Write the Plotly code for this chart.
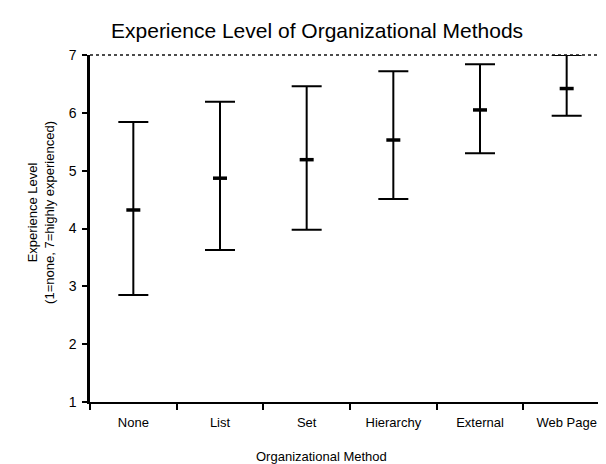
import plotly.graph_objects as go

categories = ["None", "List", "Set", "Hierarchy", "External", "Web Page"]
means = [4.32, 4.87, 5.19, 5.53, 6.05, 6.42]
upper = [5.84, 6.19, 6.46, 6.72, 6.84, 7.0]
lower = [2.85, 3.63, 3.98, 4.51, 5.30, 5.95]
y_ticks = [1, 2, 3, 4, 5, 6, 7]

err_plus = [u - m for u, m in zip(upper, means)]
err_minus = [m - l for m, l in zip(means, lower)]

FONT = "Arial, Liberation Sans, Helvetica, sans-serif"

fig = go.Figure()
fig.add_trace(go.Scatter(
    x=categories, y=means, mode="markers",
    marker=dict(symbol="line-ew", size=10, line=dict(width=3.5, color="black"), color="black"),
    error_y=dict(type="data", symmetric=False, array=err_plus, arrayminus=err_minus,
                 color="black", thickness=2, width=15),
    showlegend=False, hoverinfo="skip",
))

fig.update_layout(
    width=606, height=464,
    margin=dict(l=82, r=4, t=47, b=70),
    paper_bgcolor="white", plot_bgcolor="white",
    font=dict(family=FONT, color="black"),
    title=dict(text="Experience Level of Organizational Methods", x=0.51, xanchor="center",
               y=1 - 23 / 464, yanchor="middle", font=dict(size=21, family=FONT, color="black")),
    xaxis=dict(type="category", range=[-0.5, 5.5], tickson="boundaries", ticks="outside",
               ticklen=6, tickwidth=2, tickcolor="black", showline=True, linecolor="black",
               linewidth=2, showgrid=False, zeroline=False, ticklabelstandoff=7,
               tickfont=dict(size=13, color="black")),
    yaxis=dict(range=[1, 7], tickvals=y_ticks, ticks="outside", ticklen=5, tickwidth=2,
               tickcolor="black", showline=True, linecolor="black", linewidth=2.5,
               showgrid=False, zeroline=False, ticklabelstandoff=3,
               tickfont=dict(size=14, color="black")),
    shapes=[
        dict(type="line", xref="paper", yref="paper", x0=0, x1=1, y0=1, y1=1,
             line=dict(color="#111", width=1.5, dash="dot")),
        dict(type="line", xref="paper", yref="paper", x0=1, x1=1, y0=0, y1=1,
             line=dict(color="#555", width=1, dash="dot")),
    ],
    annotations=[
        dict(text="Experience Level<br>(1=none, 7=highly experienced)", textangle=-90,
             xref="paper", yref="paper", x=0, y=0.545, xshift=-49, xanchor="center",
             yanchor="middle", showarrow=False, font=dict(size=13, family=FONT, color="black")),
        dict(text="Organizational Method", xref="paper", yref="paper", x=0.446, y=-0.158,
             xanchor="center", yanchor="middle", showarrow=False,
             font=dict(size=13, family=FONT, color="black")),
    ],
)

fig.write_html("out.html")
